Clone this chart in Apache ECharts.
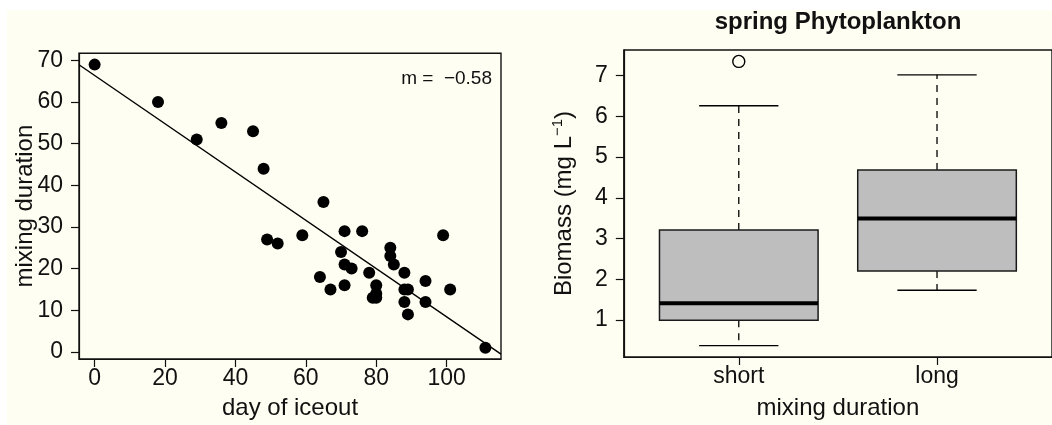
<!DOCTYPE html>
<html>
<head>
<meta charset="utf-8">
<script src="https://cdn.jsdelivr.net/npm/echarts@6/dist/echarts.min.js"></script>
<style>
html,body{margin:0;padding:0;background:#ffffff;}
#bg{position:absolute;left:7px;top:10px;width:1045px;height:415px;background:#fefef2;}
#chart{position:absolute;left:0;top:0;width:1052px;height:425px;}
</style>
</head>
<body>
<div id="bg"></div>
<div id="chart"></div>
<script>
// ---- left panel: day of iceout vs mixing duration ----
const iceoutDay = [0,18,29,36,45,48,65,49,52,59,71,76,99,70,71,73,64,67,71,78,84,84,85,80,80,79,80,88,88,89,88,89,94,94,101,111];
const mixingDays = [69,60,51,55,53,44,36,27,26,28,29,29,28,24,21,20,18,15,16,19,25,23,21,16,14,13,13,19,15,15,12,9,17,12,15,1];
const fitSlope = -0.58;
const fitIntercept = 66.4;
const xTicksLeft = [0,20,40,60,80,100];
const yTicksLeft = [0,10,20,30,40,50,60,70];

// ---- right panel: spring phytoplankton boxplot ----
const groups = ['short','long'];
const whiskerLow = [0.37, 1.73];
const quart1 = [0.99, 2.20];
const medians = [1.41, 3.49];
const quart3 = [3.21, 4.68];
const whiskerHigh = [6.26, 7.02];
const outlierGroup = [1];
const outlierValue = [7.35];
const yTicksRight = [1,2,3,4,5,6,7];

const FONT = 'Liberation Sans, Arial, Helvetica, sans-serif';
const INK = '#111111';

const leftX = [-4.44, 115.44];
const leftY = [-1.72, 71.72];
const fitLine = leftX.map(x => [x, fitIntercept + fitSlope * x]);
const scatterData = iceoutDay.map((d, i) => [d, mixingDays[i]]);
const boxData = groups.map((g, i) => [i + 1, whiskerLow[i], quart1[i], medians[i], quart3[i], whiskerHigh[i]]);
const outlierData = outlierGroup.map((g, i) => [g, outlierValue[i]]);

const chart = echarts.init(document.getElementById('chart'), null, {renderer: 'canvas'});

function axisCommon() {
  return {
    axisLine: {show: true, onZero: false, lineStyle: {color: INK, width: 1.2}},
    splitLine: {show: false},
    nameMoveOverlap: false
  };
}

const option = {
  backgroundColor: 'transparent',
  animation: false,
  grid: [
    {left: 79, top: 53.3, width: 422, height: 305.7, show: true, borderColor: INK, borderWidth: 1.4, backgroundColor: 'transparent', containLabel: false},
    {left: 623.8, top: 50, width: 429.2, height: 312, show: true, borderColor: INK, borderWidth: 1.4, backgroundColor: 'transparent', containLabel: false}
  ],
  xAxis: [
    Object.assign(axisCommon(), {
      gridIndex: 0, type: 'value', min: leftX[0], max: leftX[1],
      axisTick: {show: true, inside: false, length: 8, customValues: xTicksLeft, lineStyle: {color: INK, width: 1.2}},
      axisLabel: {customValues: xTicksLeft, margin: 8, color: INK, fontSize: 23, fontFamily: FONT},
      name: 'day of iceout', nameLocation: 'middle', nameGap: 37,
      nameTextStyle: {color: INK, fontSize: 24, fontFamily: FONT}
    }),
    Object.assign(axisCommon(), {
      gridIndex: 1, type: 'value', min: 0.42, max: 2.58,
      axisTick: {show: true, inside: false, length: 8, customValues: [1,2], lineStyle: {color: INK, width: 1.2}},
      axisLabel: {customValues: [1,2], formatter: v => groups[Math.round(v) - 1], margin: 8, color: INK, fontSize: 23, fontFamily: FONT},
      name: 'mixing duration', nameLocation: 'middle', nameGap: 39,
      nameTextStyle: {color: INK, fontSize: 24, fontFamily: FONT}
    })
  ],
  yAxis: [
    Object.assign(axisCommon(), {
      gridIndex: 0, type: 'value', min: leftY[0], max: leftY[1],
      axisTick: {show: true, inside: false, length: 8, customValues: yTicksLeft, lineStyle: {color: INK, width: 1.2}},
      axisLabel: {customValues: yTicksLeft, margin: 16, color: INK, fontSize: 23, fontFamily: FONT},
      name: 'mixing duration', nameLocation: 'middle', nameGap: 42, nameRotate: 90,
      nameTextStyle: {color: INK, fontSize: 24, fontFamily: FONT}
    }),
    Object.assign(axisCommon(), {
      gridIndex: 1, type: 'value', min: 0.09, max: 7.63,
      axisTick: {show: true, inside: false, length: 8, customValues: yTicksRight, lineStyle: {color: INK, width: 1.2}},
      axisLabel: {customValues: yTicksRight, margin: 16, color: INK, fontSize: 23, fontFamily: FONT},
      name: '{n|Biomass (mg L}{s|−1}{n|)}', nameLocation: 'middle', nameGap: 46, nameRotate: 90,
      nameTextStyle: {color: INK, fontSize: 24, fontFamily: FONT,
        rich: {
          n: {fontSize: 24, fontFamily: FONT, color: INK},
          s: {fontSize: 15, fontFamily: FONT, color: INK, verticalAlign: 'top', padding: [0,0,12,0]}
        }}
    })
  ],
  graphic: [
    {type: 'text', x: 838, y: 22, style: {text: 'spring Phytoplankton', fill: INK, font: 'bold 24px ' + FONT, align: 'center', verticalAlign: 'middle'}},
    {type: 'text', x: 492, y: 79, style: {text: 'm =  −0.58', fill: INK, font: '19px ' + FONT, align: 'right', verticalAlign: 'middle'}}
  ],
  series: [
    {
      type: 'line', xAxisIndex: 0, yAxisIndex: 0, data: fitLine,
      symbol: 'none', lineStyle: {color: '#000', width: 1.4}, z: 3, silent: true
    },
    {
      type: 'scatter', xAxisIndex: 0, yAxisIndex: 0, data: scatterData,
      symbol: 'circle', symbolSize: 12, itemStyle: {color: '#000', opacity: 1}, z: 4, silent: true
    },
    {
      type: 'custom', xAxisIndex: 1, yAxisIndex: 1, data: boxData,
      encode: {x: 0, y: [1,2,3,4,5]}, silent: true, z: 3,
      renderItem: function (params, api) {
        const x = api.value(0), lo = api.value(1), q1 = api.value(2), md = api.value(3), q3 = api.value(4), hi = api.value(5);
        const half = 0.4, cap = 0.2;
        const c = (a, b) => api.coord([a, b]);
        const tl = c(x - half, q3), br = c(x + half, q1);
        const dash = {stroke: '#000', lineWidth: 1.3, lineDash: [7, 6]};
        const solid = {stroke: '#000', lineWidth: 1.4};
        return {
          type: 'group',
          children: [
            {type: 'line', shape: {x1: c(x, q3)[0], y1: c(x, q3)[1], x2: c(x, hi)[0], y2: c(x, hi)[1]}, style: dash},
            {type: 'line', shape: {x1: c(x, q1)[0], y1: c(x, q1)[1], x2: c(x, lo)[0], y2: c(x, lo)[1]}, style: dash},
            {type: 'line', shape: {x1: c(x - cap, hi)[0], y1: c(x - cap, hi)[1], x2: c(x + cap, hi)[0], y2: c(x + cap, hi)[1]}, style: solid},
            {type: 'line', shape: {x1: c(x - cap, lo)[0], y1: c(x - cap, lo)[1], x2: c(x + cap, lo)[0], y2: c(x + cap, lo)[1]}, style: solid},
            {type: 'rect', shape: {x: tl[0], y: tl[1], width: br[0] - tl[0], height: br[1] - tl[1]}, style: {fill: '#bebebe', stroke: '#1a1a1a', lineWidth: 1.5}},
            {type: 'line', shape: {x1: c(x - half, md)[0], y1: c(x - half, md)[1], x2: c(x + half, md)[0], y2: c(x + half, md)[1]}, style: {stroke: '#000', lineWidth: 4}}
          ]
        };
      }
    },
    {
      type: 'scatter', xAxisIndex: 1, yAxisIndex: 1, data: outlierData,
      symbol: 'circle', symbolSize: 12, itemStyle: {color: 'transparent', borderColor: '#000', borderWidth: 1.4, opacity: 1}, z: 4, silent: true
    }
  ]
};
chart.setOption(option);
</script>
</body>
</html>
